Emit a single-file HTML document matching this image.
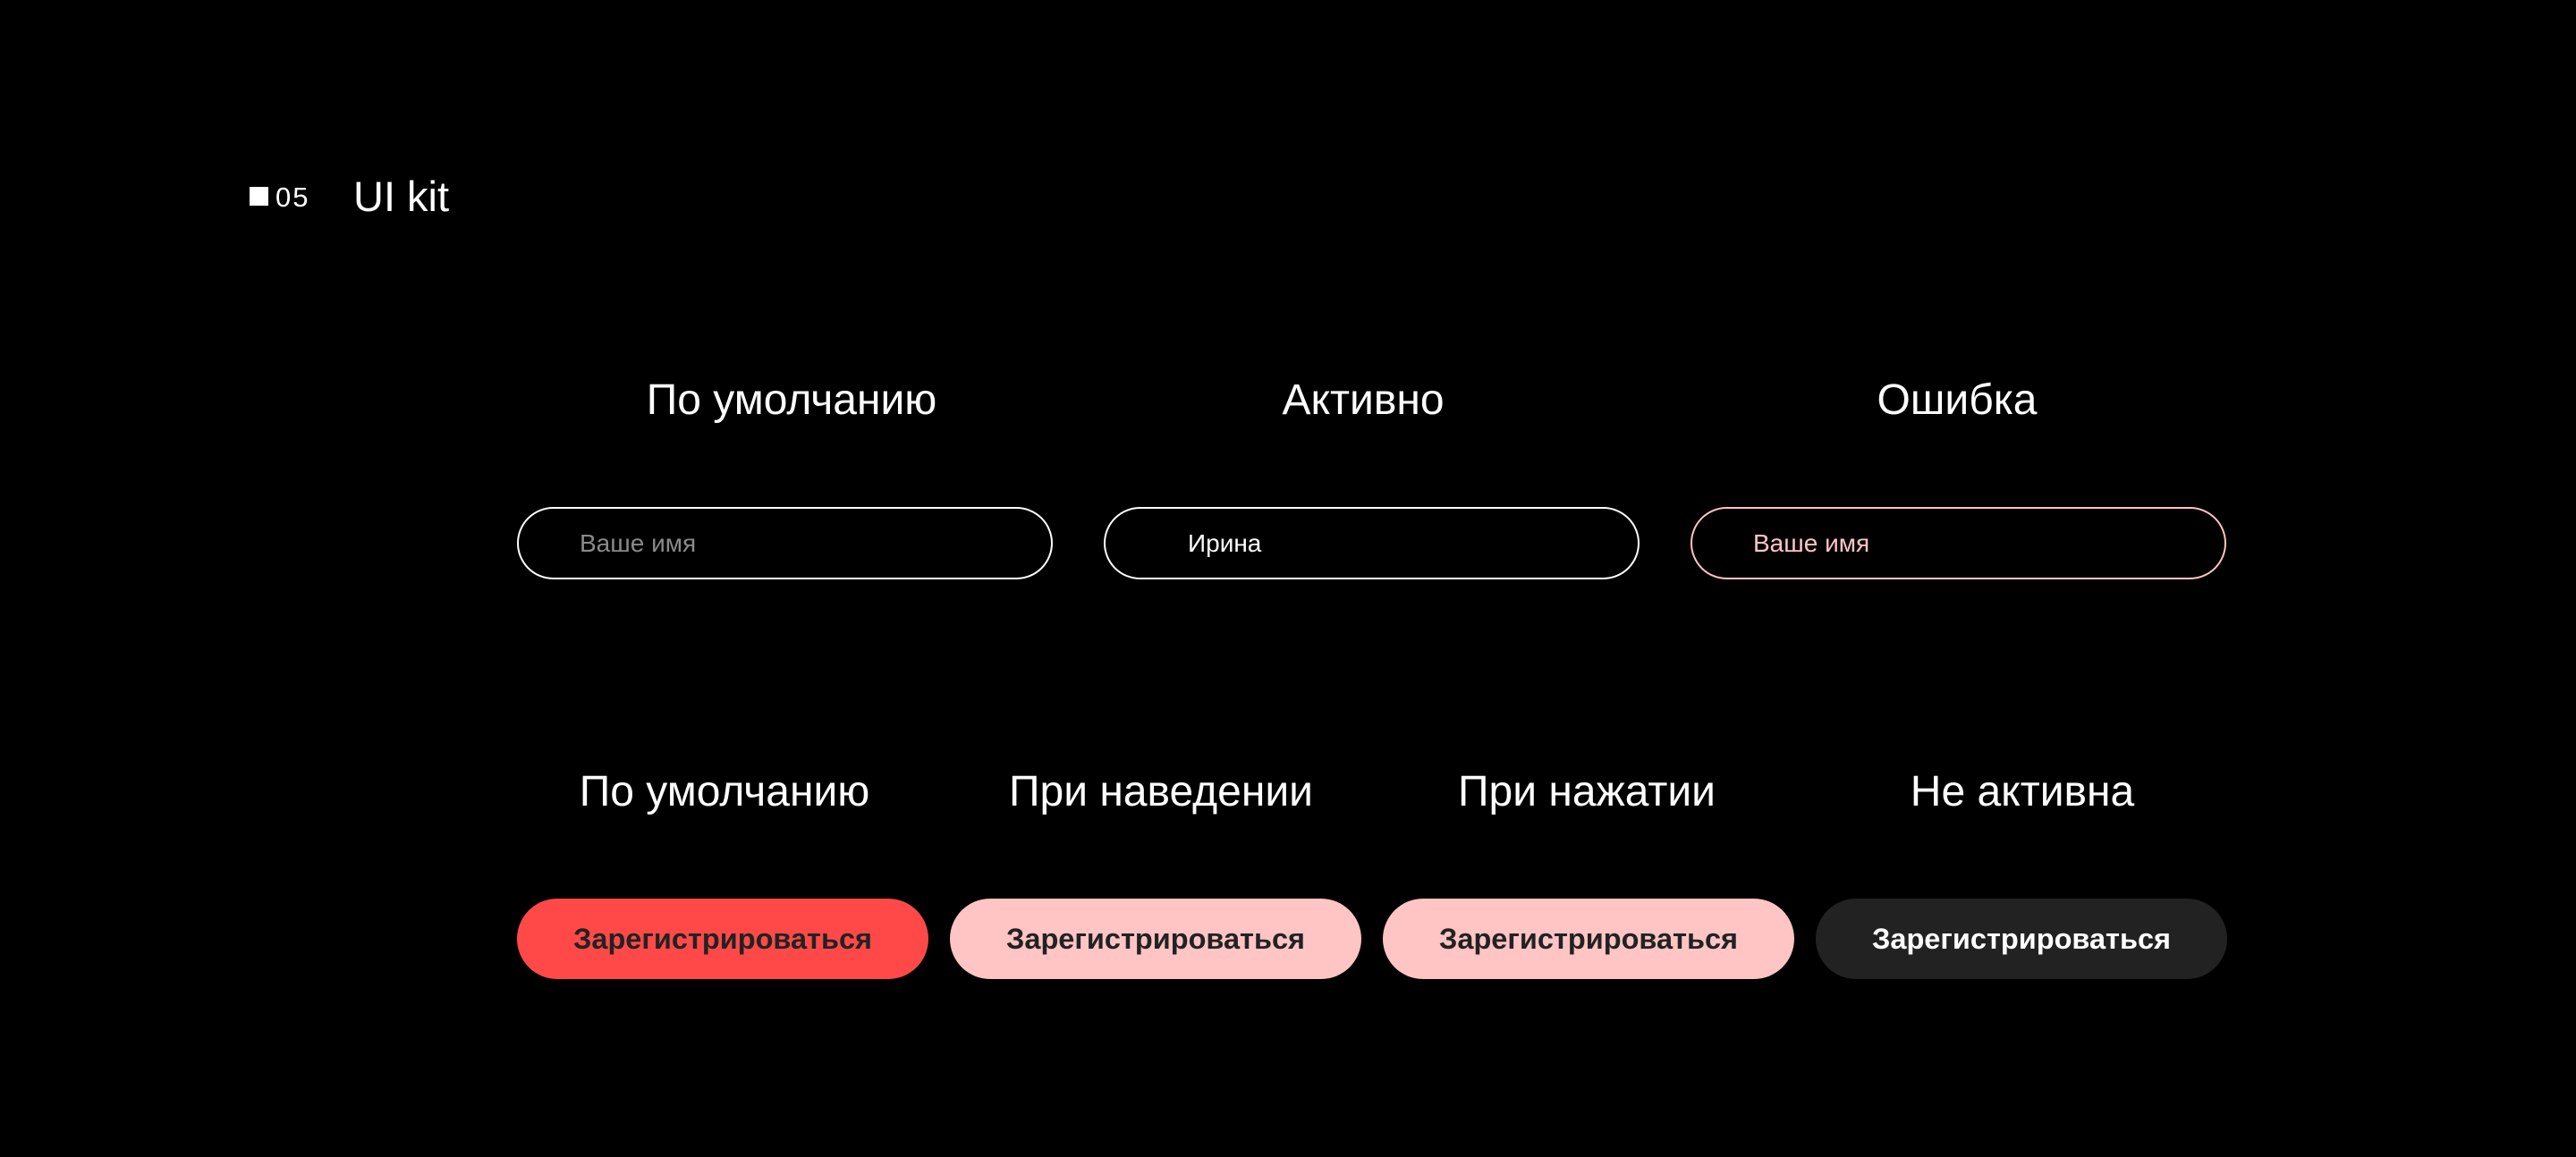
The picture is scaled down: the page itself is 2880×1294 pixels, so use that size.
<!DOCTYPE html>
<html><head><meta charset="utf-8"><style>
html,body{margin:0;padding:0;background:#000;}
body{width:2880px;height:1294px;position:relative;overflow:hidden;font-family:"Liberation Sans","DejaVu Sans",sans-serif;color:#fff;}
.a{position:absolute;}
.h{position:absolute;font-size:48px;font-weight:400;white-space:nowrap;transform:translateX(-50%);line-height:1;}
.in{position:absolute;top:567px;width:595px;height:77px;border:2px solid #fff;border-radius:41px;box-sizing:content-box;}
.in span{position:absolute;left:68px;top:25px;font-size:28px;line-height:1;}
.b{position:absolute;top:1005px;height:90px;width:460px;border-radius:45px;font-weight:700;font-size:32.5px;display:flex;align-items:center;justify-content:center;color:#222;}
</style></head><body>
<div class="a" style="left:279px;top:209px;width:21px;height:21px;background:#fff"></div>
<div class="a" style="left:308px;top:205px;font-size:31px;line-height:1;letter-spacing:2px">05</div>
<div class="a" style="left:395px;top:196px;font-size:47px;line-height:1;">UI kit</div>

<div class="h" style="left:885px;top:424px">По умолчанию</div>
<div class="h" style="left:1524px;top:424px">Активно</div>
<div class="h" style="left:2188px;top:424px">Ошибка</div>

<div class="in" style="left:578px"><span style="color:#8a8a8a">Ваше имя</span></div>
<div class="in" style="left:1234px"><span style="color:#fff;left:92px">Ирина</span></div>
<div class="in" style="left:1890px;border-color:#ffc4c4"><span style="color:#ffc4c4">Ваше имя</span></div>

<div class="h" style="left:810px;top:862px">По умолчанию</div>
<div class="h" style="left:1298px;top:862px">При наведении</div>
<div class="h" style="left:1774px;top:862px">При нажатии</div>
<div class="h" style="left:2261px;top:862px">Не активна</div>

<div class="b" style="left:578px;background:#ff4949">Зарегистрироваться</div>
<div class="b" style="left:1062px;background:#ffc4c4">Зарегистрироваться</div>
<div class="b" style="left:1546px;background:#ffc4c4">Зарегистрироваться</div>
<div class="b" style="left:2030px;background:#222;color:#fff">Зарегистрироваться</div>
</body></html>
